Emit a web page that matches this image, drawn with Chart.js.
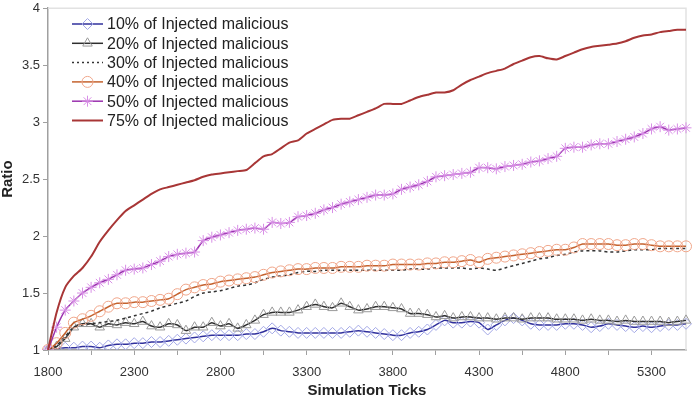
<!DOCTYPE html>
<html>
<head>
<meta charset="utf-8">
<script src="https://cdn.jsdelivr.net/npm/chart.js@4/dist/chart.umd.min.js"></script>
<style>
  html, body { margin: 0; padding: 0; background: #fff; }
  #wrap { width: 697px; height: 402px; }
</style>
</head>
<body>
<div id="wrap"><canvas id="chart" width="697" height="402"></canvas></div>
<script>
// Simulation ticks (one point every 50 ticks)
const ticks = [
  1800, 1850, 1900, 1950, 2000, 2050, 2100, 2150, 2200, 2250,
  2300, 2350, 2400, 2450, 2500, 2550, 2600, 2650, 2700, 2750,
  2800, 2850, 2900, 2950, 3000, 3050, 3100, 3150, 3200, 3250,
  3300, 3350, 3400, 3450, 3500, 3550, 3600, 3650, 3700, 3750,
  3800, 3850, 3900, 3950, 4000, 4050, 4100, 4150, 4200, 4250,
  4300, 4350, 4400, 4450, 4500, 4550, 4600, 4650, 4700, 4750,
  4800, 4850, 4900, 4950, 5000, 5050, 5100, 5150, 5200, 5250,
  5300, 5350, 5400, 5450, 5500
];

const inj10 = [
  1.00, 1.01, 1.02, 1.02, 1.03, 1.03, 1.02, 1.04, 1.05, 1.05,
  1.06, 1.06, 1.07, 1.07, 1.08, 1.09, 1.10, 1.11, 1.12, 1.13,
  1.13, 1.13, 1.13, 1.14, 1.14, 1.16, 1.19, 1.17, 1.16, 1.15,
  1.15, 1.15, 1.15, 1.15, 1.15, 1.16, 1.17, 1.16, 1.15, 1.14,
  1.13, 1.13, 1.15, 1.16, 1.18, 1.22, 1.26, 1.24, 1.24, 1.25,
  1.24, 1.18, 1.22, 1.26, 1.28, 1.26, 1.23, 1.22, 1.22, 1.22,
  1.23, 1.23, 1.22, 1.20, 1.21, 1.23, 1.22, 1.21, 1.20, 1.21,
  1.20, 1.21, 1.22, 1.22, 1.23
];
const inj20 = [
  1.00, 1.03, 1.10, 1.20, 1.23, 1.23, 1.20, 1.23, 1.22, 1.24,
  1.23, 1.25, 1.21, 1.20, 1.23, 1.22, 1.17, 1.20, 1.20, 1.24,
  1.21, 1.23, 1.19, 1.22, 1.26, 1.31, 1.33, 1.33, 1.33, 1.35,
  1.38, 1.40, 1.38, 1.37, 1.41, 1.38, 1.35, 1.36, 1.38, 1.38,
  1.37, 1.36, 1.32, 1.32, 1.31, 1.29, 1.30, 1.28, 1.29, 1.29,
  1.28, 1.28, 1.27, 1.28, 1.28, 1.27, 1.28, 1.28, 1.28, 1.27,
  1.27, 1.27, 1.26, 1.27, 1.26, 1.26, 1.25, 1.26, 1.25, 1.25,
  1.25, 1.25, 1.24, 1.25, 1.26
];
const inj30 = [
  1.00, 1.04, 1.12, 1.20, 1.22, 1.23, 1.24, 1.25, 1.26, 1.28,
  1.30, 1.32, 1.34, 1.37, 1.39, 1.41, 1.43, 1.47, 1.50, 1.51,
  1.52, 1.54, 1.56, 1.57, 1.59, 1.62, 1.64, 1.65, 1.66, 1.68,
  1.69, 1.69, 1.70, 1.70, 1.70, 1.70, 1.70, 1.70, 1.70, 1.70,
  1.70, 1.70, 1.71, 1.71, 1.71, 1.72, 1.72, 1.72, 1.72, 1.71,
  1.72, 1.71, 1.70, 1.72, 1.74, 1.76, 1.78, 1.80, 1.81, 1.83,
  1.84, 1.86, 1.87, 1.87, 1.87, 1.86, 1.86, 1.87, 1.88, 1.88,
  1.88, 1.89, 1.89, 1.89, 1.89
];
const inj40 = [
  1.00, 1.06, 1.15, 1.24, 1.27, 1.30, 1.34, 1.38, 1.41, 1.41,
  1.42, 1.42, 1.43, 1.44, 1.45, 1.49, 1.53, 1.55, 1.57, 1.58,
  1.60, 1.61, 1.62, 1.63, 1.64, 1.66, 1.68, 1.69, 1.70, 1.71,
  1.71, 1.72, 1.72, 1.72, 1.73, 1.73, 1.73, 1.74, 1.74, 1.74,
  1.75, 1.75, 1.75, 1.75, 1.76, 1.76, 1.77, 1.77, 1.78, 1.79,
  1.77, 1.80, 1.81, 1.82, 1.83, 1.84, 1.85, 1.86, 1.87, 1.88,
  1.88, 1.90, 1.93, 1.93, 1.93, 1.93, 1.92, 1.92, 1.93, 1.93,
  1.92, 1.91, 1.91, 1.91, 1.91
];
const inj50 = [
  1.00, 1.20, 1.35, 1.43, 1.50, 1.55, 1.59, 1.62, 1.66, 1.70,
  1.71, 1.72, 1.75, 1.78, 1.82, 1.84, 1.85, 1.86, 1.96, 1.99,
  2.01, 2.03, 2.05, 2.06, 2.07, 2.06, 2.12, 2.11, 2.12, 2.17,
  2.18, 2.20, 2.23, 2.25, 2.28, 2.30, 2.32, 2.34, 2.36, 2.36,
  2.37, 2.41, 2.43, 2.45, 2.48, 2.52, 2.53, 2.54, 2.55, 2.56,
  2.60, 2.60, 2.59, 2.61, 2.62, 2.63, 2.65, 2.66, 2.68, 2.70,
  2.77, 2.78, 2.78, 2.80, 2.81, 2.81, 2.83, 2.85, 2.87, 2.90,
  2.94, 2.96, 2.93, 2.94, 2.95
];
const inj75 = [
  1.00, 1.33, 1.55, 1.65, 1.72, 1.82, 1.95, 2.05, 2.14, 2.22,
  2.27, 2.32, 2.37, 2.41, 2.43, 2.45, 2.47, 2.49, 2.52, 2.54,
  2.55, 2.56, 2.57, 2.58, 2.64, 2.70, 2.72, 2.77, 2.82, 2.84,
  2.90, 2.94, 2.98, 3.02, 3.03, 3.03, 3.06, 3.09, 3.12, 3.16,
  3.16, 3.16, 3.19, 3.22, 3.24, 3.26, 3.26, 3.28, 3.33, 3.37,
  3.40, 3.43, 3.45, 3.47, 3.51, 3.54, 3.57, 3.58, 3.56, 3.55,
  3.58, 3.61, 3.64, 3.66, 3.67, 3.68, 3.69, 3.71, 3.74, 3.76,
  3.77, 3.79, 3.80, 3.81, 3.81
];

const seriesNames = [
  '10% of Injected malicious',
  '20% of Injected malicious',
  '30% of Injected malicious',
  '40% of Injected malicious',
  '50% of Injected malicious',
  '75% of Injected malicious'
];

const FONT = '"Liberation Sans", Arial, sans-serif';

function series(label, data, line, marker, style, extra) {
  return Object.assign({
    label: label,
    data: data,
    borderColor: line,
    borderWidth: 1.5,
    tension: 0.2,
    fill: false,
    pointStyle: style || false,
    pointRadius: style ? 5.5 : 0,
    pointHoverRadius: style ? 5.5 : 0,
    pointBorderColor: marker,
    pointBackgroundColor: 'rgba(0,0,0,0)',
    pointBorderWidth: 1
  }, extra || {});
}

const datasets = [
  series(seriesNames[0], inj10, '#30309c', '#a3a8e6', 'rectRot', { order: 5 }),
  series(seriesNames[1], inj20, '#2e2e2e', '#9a9a9a', 'triangle', { order: 4 }),
  series(seriesNames[2], inj30, '#333333', '#333333', null, { borderDash: [3, 3], order: 3 }),
  series(seriesNames[3], inj40, '#c4622e', '#f0a68a', 'circle', { order: 2 }),
  series(seriesNames[4], inj50, '#9a32ae', '#d88fe6', 'star', { order: 1 }),
  series(seriesNames[5], inj75, '#a83636', '#a83636', null, { order: 0, borderWidth: 2 })
];

// rand z obszaru wykresu + legenda w srodku
const framePlugin = {
  id: 'frame',
  beforeDatasetsDraw(chart) {
    const { ctx, chartArea: a } = chart;
    ctx.save();
    ctx.strokeStyle = '#e2e2e2';
    ctx.lineWidth = 1.5;
    ctx.beginPath();
    ctx.moveTo(a.left, a.top);
    ctx.lineTo(a.right, a.top);
    ctx.lineTo(a.right, a.bottom);
    ctx.stroke();
    ctx.restore();
  },
  afterDatasetsDraw(chart) {
    const ctx = chart.ctx;
    const x0 = 72, x1 = 103, y0 = 24, dy = 19.3;
    ctx.save();
    chart.data.datasets.forEach((ds, i) => {
      const y = y0 + i * dy;
      ctx.strokeStyle = ds.borderColor;
      ctx.lineWidth = ds.borderWidth;
      ctx.setLineDash(ds.borderDash ? [2, 3] : []);
      ctx.beginPath();
      ctx.moveTo(x0, y);
      ctx.lineTo(x1, y);
      ctx.stroke();
      ctx.setLineDash([]);
      if (ds.pointStyle) {
        ctx.strokeStyle = ds.pointBorderColor;
        ctx.fillStyle = 'rgba(0,0,0,0)';
        ctx.lineWidth = 1;
        Chart.helpers.drawPoint(ctx, {
          pointStyle: ds.pointStyle, radius: 5.5, rotation: 0, borderWidth: 1
        }, (x0 + x1) / 2, y);
      }
      ctx.fillStyle = '#222';
      ctx.font = '16px ' + FONT;
      ctx.textBaseline = 'middle';
      ctx.textAlign = 'left';
      ctx.fillText(ds.label, 107, y + 1);
    });
    ctx.restore();
  }
};

new Chart(document.getElementById('chart'), {
  type: 'line',
  data: { labels: ticks, datasets: datasets },
  plugins: [framePlugin],
  options: {
    responsive: false,
    animation: false,
    layout: { padding: { top: 0, right: 11, left: 0, bottom: 0 } },
    plugins: {
      legend: { display: false },
      tooltip: { enabled: false }
    },
    scales: {
      x: {
        type: 'category',
        offset: false,
        afterFit: (s) => { s.height = 52; },
        border: { color: '#a0a0a0', width: 1.5 },
        grid: {
          drawOnChartArea: false,
          tickLength: 5,
          tickColor: (c) => (c.index % 5 === 0 ? '#a0a0a0' : 'rgba(0,0,0,0)')
        },
        ticks: {
          autoSkip: false,
          maxRotation: 0,
          padding: 10,
          color: '#333',
          font: { family: FONT, size: 13 },
          callback: (v, i) => (i % 10 === 0 ? ticks[i] : '')
        },
        title: {
          display: true,
          text: 'Simulation Ticks',
          color: '#222',
          padding: { top: 0, bottom: 2 },
          font: { family: FONT, size: 15, weight: 'bold' }
        }
      },
      y: {
        min: 1,
        max: 4,
        afterFit: (s) => { s.width = 48; },
        border: { color: '#a0a0a0', width: 1.5 },
        grid: { drawOnChartArea: false, tickLength: 5, tickColor: '#a0a0a0' },
        ticks: {
          stepSize: 0.5,
          padding: 3,
          color: '#333',
          font: { family: FONT, size: 13, lineHeight: 0.8 },
          callback: (v) => String(Number(v))
        },
        title: {
          display: true,
          text: 'Ratio',
          color: '#222',
          padding: { top: 0, bottom: 0 },
          font: { family: FONT, size: 15, weight: 'bold', lineHeight: 1 }
        }
      }
    }
  }
});
</script>
</body>
</html>
